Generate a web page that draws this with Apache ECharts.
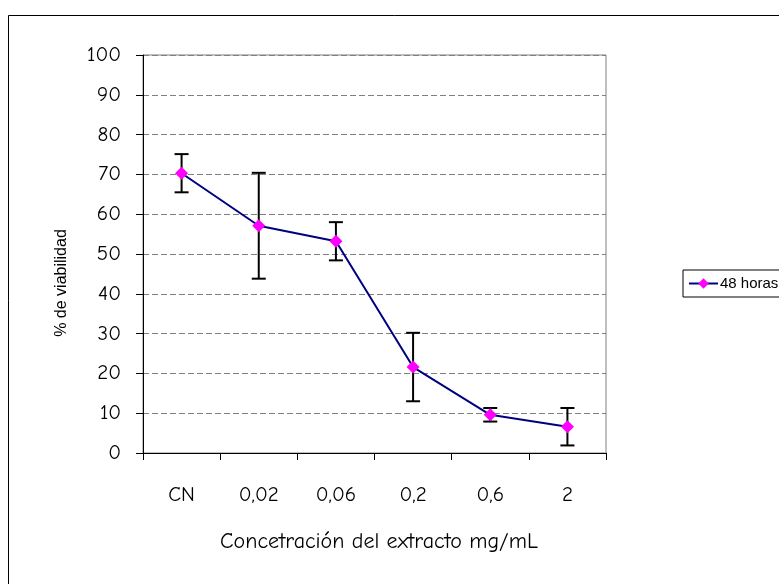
<!DOCTYPE html>
<html>
<head>
<meta charset="utf-8">
<script src="https://cdn.jsdelivr.net/npm/echarts@6/dist/echarts.min.js"></script>
<style>
html,body{margin:0;padding:0;background:#fff;}
#chart{width:779px;height:584px;}
</style>
</head>
<body>
<div id="chart"></div>
<script>
var categories = ['CN', '0,02', '0,06', '0,2', '0,6', '2'];
var viability = [70.3, 57.1, 53.2, 21.6, 9.6, 6.6];
var errorPlusMinus = [4.8, 13.3, 4.8, 8.6, 1.7, 4.7];
var yTicks = { min: 0, max: 100, interval: 10 };
var seriesName = '48 horas';
var xTitle = 'Concetración del extracto mg/mL';
var yTitle = '% de viabilidad';

var comic = '"Comic Sans MS", "Comic Neue", "DejaVu Sans", sans-serif';
var arial = 'Arial, "Liberation Sans", sans-serif';

var errData = categories.map(function (c, i) {
  return [i, viability[i] - errorPlusMinus[i], viability[i] + errorPlusMinus[i]];
});

var chart = echarts.init(document.getElementById('chart'), null, { renderer: 'canvas' });
chart.setOption({
  backgroundColor: '#fff',
  animation: false,
  grid: {
    left: 143, right: 173, top: 55, bottom: 131,
    show: true, borderColor: '#808080', borderWidth: 1, backgroundColor: 'transparent'
  },
  graphic: [
    { type: 'rect', shape: { x: 8.5, y: 15.5, width: 900, height: 700 },
      style: { fill: 'none', stroke: '#000', lineWidth: 1 }, z: -10 },
    { type: 'text', x: 62, y: 283, rotation: Math.PI / 2,
      style: { text: yTitle, font: '16px ' + arial, fill: '#000', align: 'center', verticalAlign: 'middle' } },
    { type: 'text', x: 379, y: 542,
      style: { text: xTitle, font: '22px ' + comic, fill: '#000', align: 'center', verticalAlign: 'middle' } }
  ],
  legend: {
    left: 683, top: 270,
    orient: 'vertical',
    data: [seriesName],
    borderColor: '#000', borderWidth: 1,
    padding: [6, 30, 6, 5],
    itemWidth: 29, itemHeight: 13,
    itemGap: 4,
    textStyle: { fontFamily: arial, fontSize: 15, color: '#000', padding: [0, 0, 0, -3] }
  },
  xAxis: {
    type: 'category',
    data: categories,
    boundaryGap: true,
    axisLine: { lineStyle: { color: '#000', width: 1 } },
    axisTick: { show: true, alignWithLabel: false, length: 7, lineStyle: { color: '#000' } },
    axisLabel: { margin: 32, fontFamily: comic, fontSize: 21, color: '#000', interval: 0 },
    splitLine: { show: false }
  },
  yAxis: {
    type: 'value',
    min: yTicks.min, max: yTicks.max, interval: yTicks.interval,
    axisLine: { show: true, lineStyle: { color: '#000', width: 1 } },
    axisTick: { show: true, inside: false, length: 7, lineStyle: { color: '#000' } },
    axisLabel: { margin: 22, fontFamily: comic, fontSize: 21, color: '#000' },
    splitLine: { show: true, lineStyle: { color: '#808080', type: [6, 3], width: 1 } }
  },
  series: [
    {
      type: 'custom',
      name: 'error',
      z: 1,
      data: errData,
      encode: { x: 0, y: [1, 2] },
      renderItem: function (params, api) {
        var x = api.value(0);
        var lo = api.coord([x, api.value(1)]);
        var hi = api.coord([x, api.value(2)]);
        var hw = 7;
        var st = { stroke: '#000', lineWidth: 2, fill: 'none' };
        return {
          type: 'group',
          children: [
            { type: 'line', shape: { x1: lo[0], y1: lo[1], x2: hi[0], y2: hi[1] }, style: st },
            { type: 'line', shape: { x1: hi[0] - hw, y1: hi[1], x2: hi[0] + hw, y2: hi[1] }, style: st },
            { type: 'line', shape: { x1: lo[0] - hw, y1: lo[1], x2: lo[0] + hw, y2: lo[1] }, style: st }
          ]
        };
      }
    },
    {
      type: 'line',
      name: seriesName,
      z: 3,
      data: viability,
      symbol: 'diamond',
      symbolSize: 13,
      showAllSymbol: true,
      lineStyle: { color: '#000080', width: 2 },
      itemStyle: { color: '#FF00FF', borderColor: '#FF00FF', borderWidth: 0 }
    }
  ]
});
</script>
</body>
</html>
